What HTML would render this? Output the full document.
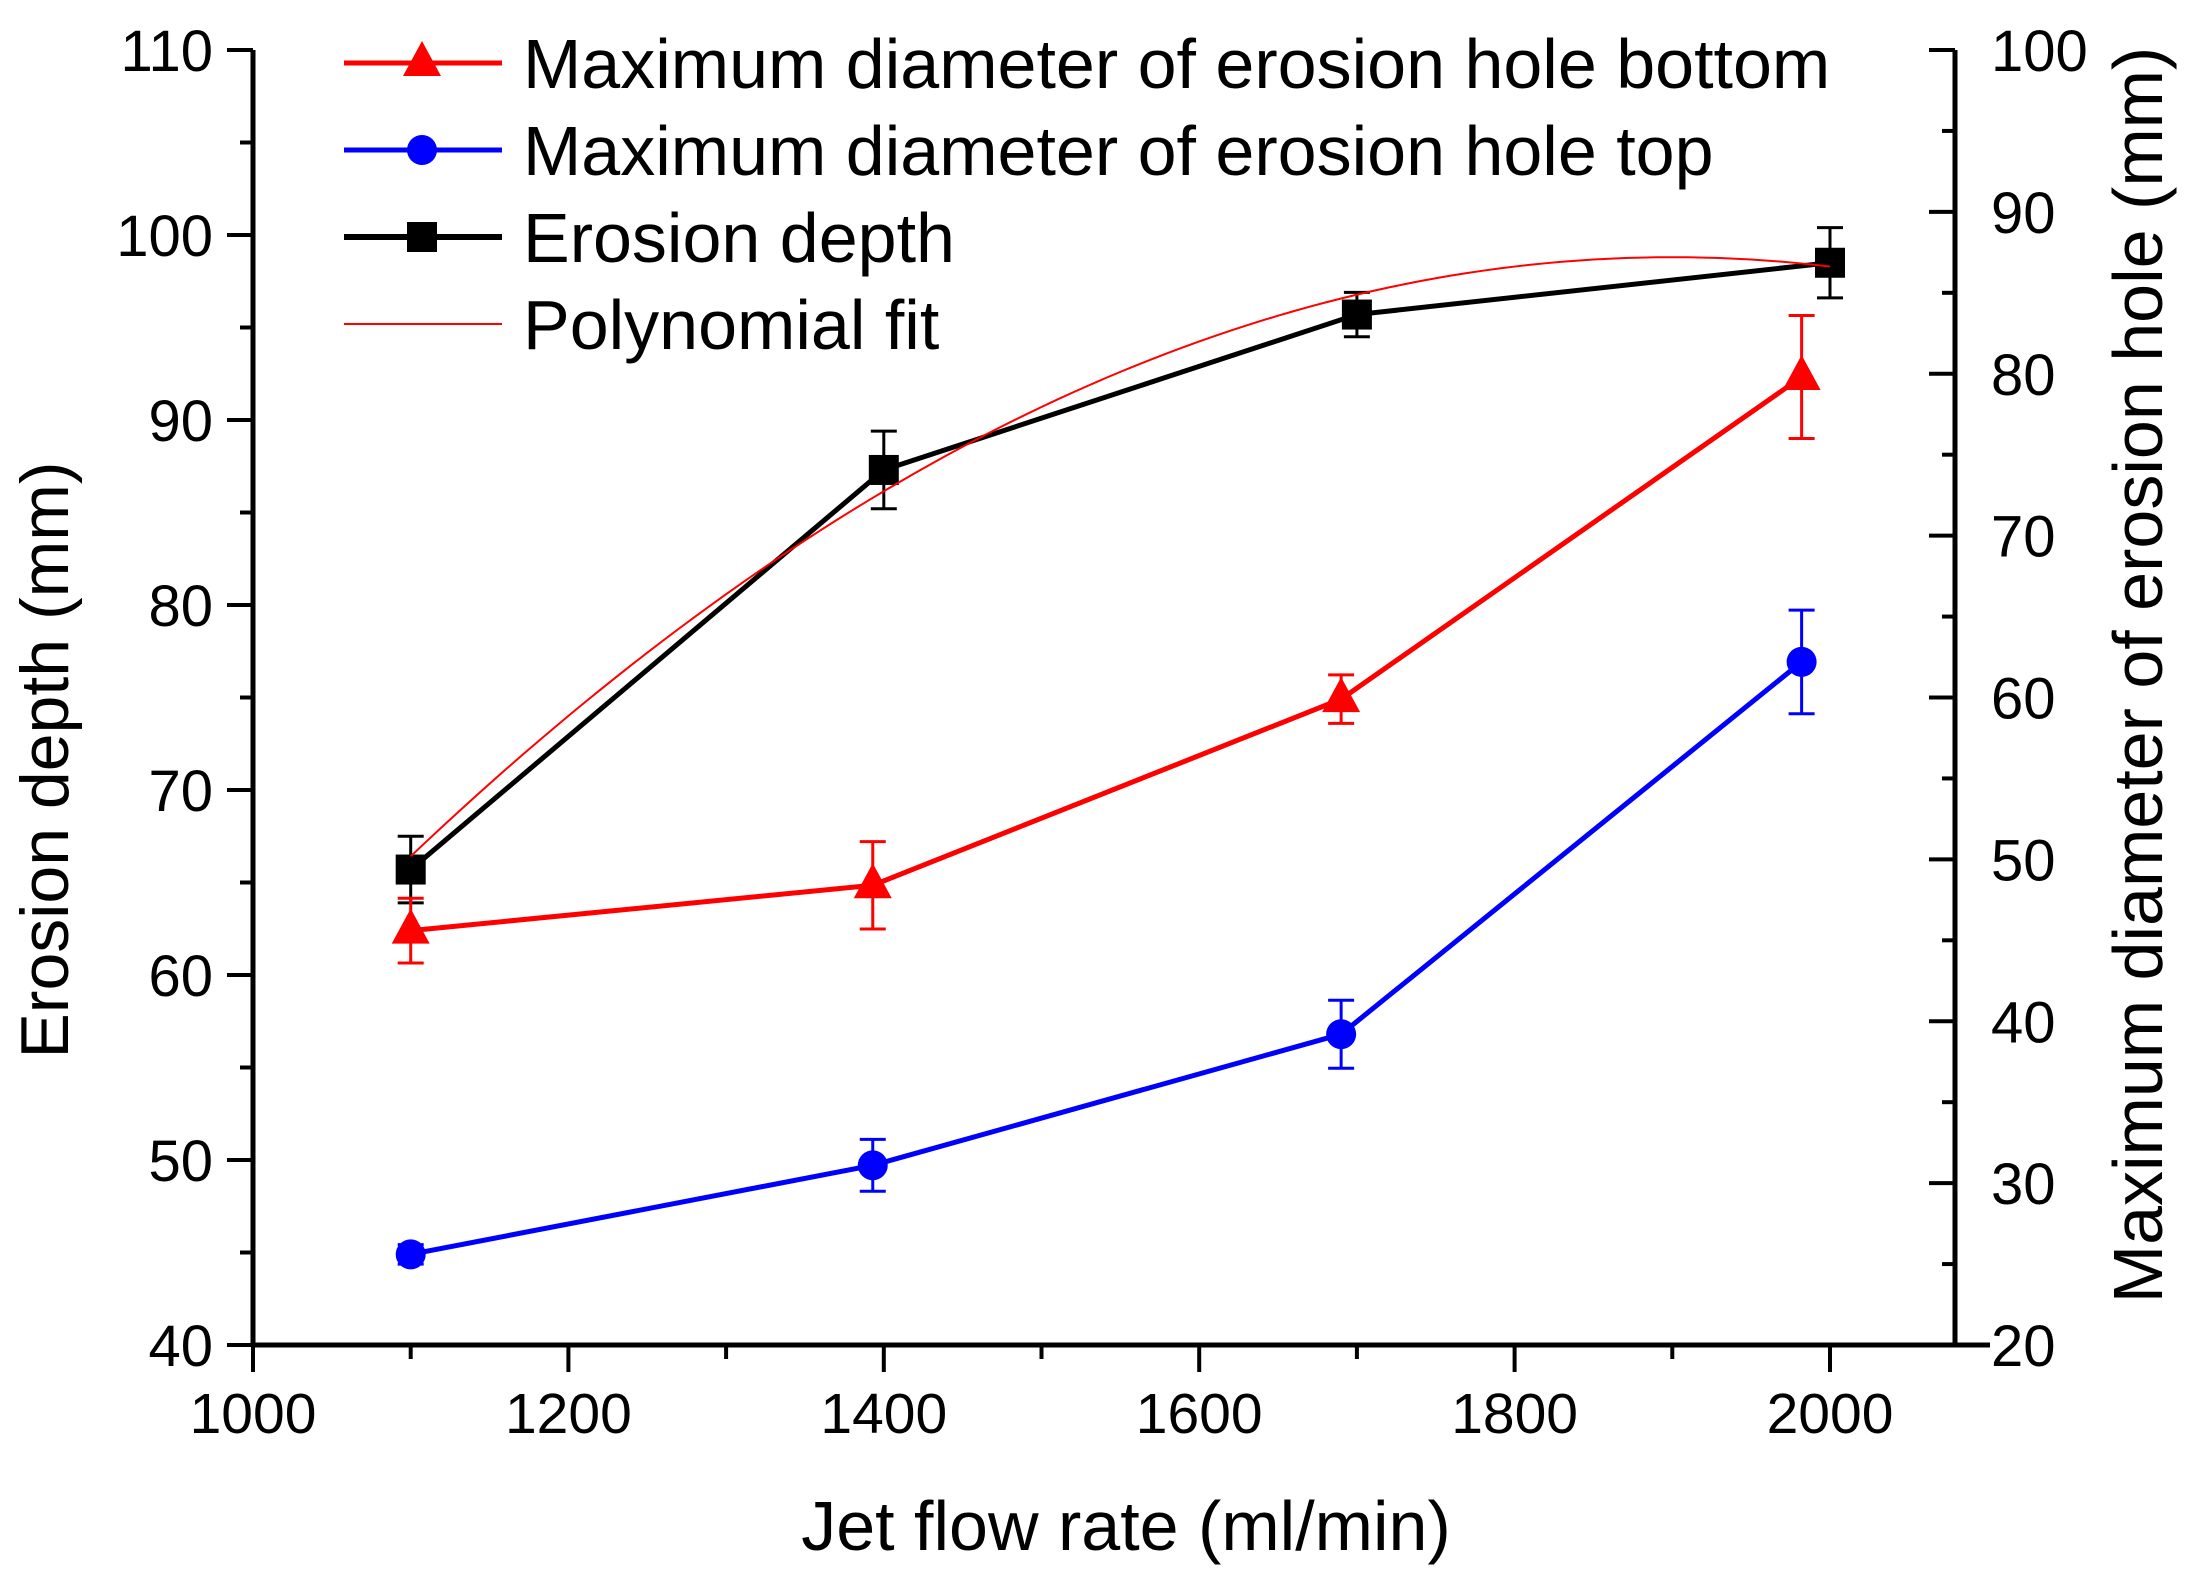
<!DOCTYPE html>
<html><head><meta charset="utf-8"><style>
html,body{margin:0;padding:0;background:#fff;}
svg{display:block;font-family:"Liberation Sans",Arial,sans-serif;}
</style></head><body>
<svg id="chart" width="2194" height="1571" viewBox="0 0 2194 1571" xmlns="http://www.w3.org/2000/svg">
<rect width="2194" height="1571" fill="#fff"/>
<g id="axes"></g>
<g id="plot"></g>
<g id="legend"></g>
</svg>
<script>
const xTicks = [1000,1200,1400,1600,1800,2000];
const yLeftTicks = [40,50,60,70,80,90,100,110];
const yRightTicks = [20,30,40,50,60,70,80,90,100];
const depthX = [1100,1400,1700,2000];
const depthY = [65.7,87.3,95.7,98.5];
const depthErr = [1.8,2.1,1.2,1.9];
const bottomX = [1100,1393,1690,1982];
const bottomY = [45.6,48.4,59.9,79.8];
const bottomErr = [2.0,2.7,1.5,3.8];
const topX = [1100,1393,1690,1982];
const topY = [25.6,31.1,39.2,62.2];
const topErr = [0.6,1.6,2.1,3.2];
const fitCoef = [98.8,1900,-5.06e-5]; // peak, peak x, curvature
const fitRange = [1100,2000];

const NS="http://www.w3.org/2000/svg";
const X0=253,X1=1830, YT=50, YB=1345, XR=1955;
const xs=v=>X0+(v-1000)*(X1-X0)/1000;
const yl=v=>YB-(v-40)*(YB-YT)/70;
const yr=v=>YB-(v-20)*(YB-YT)/80;
function mk(tag,attrs,parent,text){const e=document.createElementNS(NS,tag);for(const k in attrs)e.setAttribute(k,attrs[k]);if(text!==undefined)e.textContent=text;parent.appendChild(e);return e;}
const axes=document.getElementById('axes'),plot=document.getElementById('plot'),leg=document.getElementById('legend');
let e;
e=mk('line',{x1:X0,y1:YT,x2:X0,y2:YB,stroke:'#000','stroke-width':5},axes);


e=mk('line',{x1:XR,y1:YT,x2:XR,y2:YB,stroke:'#000','stroke-width':5},axes);


e=mk('line',{x1:X0-2,y1:YB,x2:1990,y2:YB,stroke:'#000','stroke-width':5},axes);


xTicks.forEach(v=>{
 e=mk('line',{x1:xs(v),y1:YB,x2:xs(v),y2:YB+27,stroke:'#000','stroke-width':4},axes);
 
 
 e=mk('text',{x:xs(v),y:YB+88,'font-size':57,'text-anchor':'middle'},axes,String(v));
 
 
 if(v<2000){e=mk('line',{x1:xs(v+100),y1:YB,x2:xs(v+100),y2:YB+14,stroke:'#000','stroke-width':4},axes);
 
 }
});
yLeftTicks.forEach(v=>{
 e=mk('line',{x1:X0-26,y1:yl(v),x2:X0,y2:yl(v),stroke:'#000','stroke-width':4},axes);
 
 
 e=mk('text',{x:X0-40,y:yl(v)+21,'font-size':58,'text-anchor':'end'},axes,String(v));
 
 
 if(v<110){e=mk('line',{x1:X0-13,y1:yl(v+5),x2:X0,y2:yl(v+5),stroke:'#000','stroke-width':4},axes);
 
 }
});
yRightTicks.forEach(v=>{
 e=mk('line',{x1:XR-26,y1:yr(v),x2:XR,y2:yr(v),stroke:'#000','stroke-width':4},axes);
 
 
 e=mk('text',{x:XR+36,y:yr(v)+21,'font-size':58,'text-anchor':'start'},axes,String(v));
 
 
 if(v<100){e=mk('line',{x1:XR-13,y1:yr(v+5),x2:XR,y2:yr(v+5),stroke:'#000','stroke-width':4},axes);
 
 }
});
e=mk('text',{x:1126,y:1550,'font-size':70,'text-anchor':'middle'},axes,'Jet flow rate (ml/min)');


e=mk('text',{x:0,y:0,'font-size':68,'text-anchor':'middle',transform:'translate(68,760) rotate(-90)'},axes,'Erosion depth (mm)');


e=mk('text',{x:0,y:0,'font-size':70,'text-anchor':'middle',transform:'translate(2162,675) rotate(-90)'},axes,'Maximum diameter of erosion hole (mm)');



function marker(type,cx,cy,col,g,s){
 if(type==='sq')return mk('rect',{x:cx-15,y:cy-15,width:30,height:30,fill:col},g);
 if(type==='ci')return mk('circle',{cx:cx,cy:cy,r:15,fill:col},g);
 return mk('polygon',{points:`${cx},${cy-22} ${cx-19},${cy+13} ${cx+19},${cy+13}`,fill:col},g);
}
function series(name,X,Y,E,ys,col,type){
 const g=mk('g',{},plot);
 
 
 const pts=X.map((x,i)=>xs(x)+','+ys(Y[i])).join(' ');
 e=mk('polyline',{points:pts,fill:'none',stroke:col,'stroke-width':5},g);
 
 
 X.forEach((x,i)=>{
  const cx=xs(x),t=ys(Y[i]+E[i]),b=ys(Y[i]-E[i]);
  e=mk('path',{d:`M${cx},${t}V${b}M${cx-13},${t}h26M${cx-13},${b}h26`,stroke:col,'stroke-width':3,fill:'none'},g);
  
  
 });
 return g;
}
function markers(g,name,X,Y,ys,col,type){
 X.forEach((x,i)=>{e=marker(type,xs(x),ys(Y[i]),col,g);
 
 });
}
const gd=series('erosion-depth',depthX,depthY,depthErr,yl,'#000','sq');
const gb=series('hole-bottom',bottomX,bottomY,bottomErr,yr,'#ff0000','tr');
const gt=series('hole-top',topX,topY,topErr,yr,'#0000ff','ci');
markers(gb,'hole-bottom',bottomX,bottomY,yr,'#ff0000','tr');
markers(gt,'hole-top',topX,topY,yr,'#0000ff','ci');
markers(gd,'erosion-depth',depthX,depthY,yl,'#000','sq');
let d='';
for(let x=fitRange[0];x<=fitRange[1];x+=10){const v=fitCoef[0]+fitCoef[2]*(x-fitCoef[1])**2;d+=(d?'L':'M')+xs(x)+','+yl(v);}
e=mk('path',{d:d,fill:'none',stroke:'#ff0000','stroke-width':2},plot);



const legItems=[['Maximum diameter of erosion hole bottom','#ff0000','tr',5],['Maximum diameter of erosion hole top','#0000ff','ci',5],['Erosion depth','#000','sq',6],['Polynomial fit','#ff0000',null,2]];
legItems.forEach((it,i)=>{
 const y=63+i*87;
 const g=mk('g',{},leg);
 
 
 mk('line',{x1:344,y1:y,x2:502,y2:y,stroke:it[1],'stroke-width':it[3]},g);
 if(it[2])marker(it[2],422,y,it[1],g);
 e=mk('text',{x:523,y:y+25,'font-size':70},g,it[0]);
 
 
});
</script>
</body></html>
